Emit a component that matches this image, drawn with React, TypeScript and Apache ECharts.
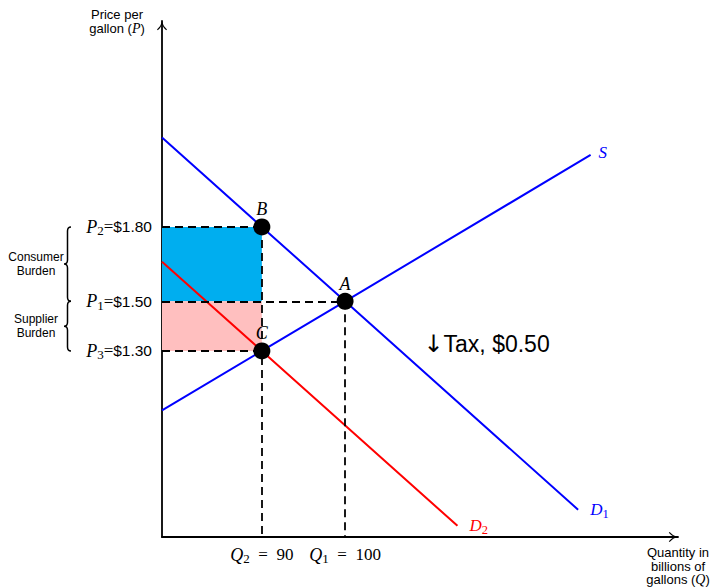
import { useEffect, useRef } from "react";
import * as echarts from "echarts";

// Equilibrium quantities, billions of gallons (Q2 after the tax, Q1 before)
const quantityLevels = [90, 100];
const quantitySubscripts = ["2", "1"];

// Price levels, $ per gallon (P3 sellers keep, P1 before tax, P2 buyers pay)
const priceLevels = [1.3, 1.5, 1.8];
const priceSubscripts = ["3", "1", "2"];

// Supply and demand curves as [quantity, price]
const supplyCurve = [
  [78, 1.06],
  [90, 1.3],
  [100, 1.5],
  [129.5, 2.09],
];
const demandBefore = [
  [78, 2.16],
  [90, 1.8],
  [100, 1.5],
  [128, 0.66],
];
const demandAfter = [
  [78, 1.66],
  [90, 1.3],
  [113.5, 0.595],
];

// Labelled equilibrium points
const pointNames = ["A", "B", "C"];
const pointValues = [
  [100, 1.5],
  [90, 1.8],
  [90, 1.3],
];

const taxAmount = 0.5;

// Tax incidence split: [lower price, upper price]
const burdenNames = ["Consumer\nBurden", "Supplier\nBurden"];
const burdenRanges = [
  [1.5, 1.8],
  [1.3, 1.5],
];
const burdenColors = ["#00AEEF", "#FFBFBF"];

const X_MIN = 78;
const X_MAX = 140;
const Y_MIN = 0.55;
const Y_MAX = 2.63;

const SERIF = "'Liberation Serif', 'DejaVu Serif', serif";
const SANS = "'Liberation Sans', 'DejaVu Sans', sans-serif";
const BLUE = "#0000FF";
const RED = "#FF0000";

const ARROW =
  "path://M5,0 Q6,4 10,7.6 L9.2,8.4 Q6.2,6 5,2.8 Q3.8,6 0.8,8.4 L0,7.6 Q4,4 5,0 Z";

const subRich = {
  p: { fontFamily: SERIF, fontStyle: "italic", fontSize: 18, color: "#000" },
  s: { fontFamily: SERIF, fontSize: 13, color: "#000", padding: [8, 0, 0, 0] },
  e: { fontFamily: SERIF, fontSize: 17, color: "#000" },
  v: { fontFamily: SANS, fontSize: 15.5, color: "#000" },
};

function findIndex(list: number[], v: number) {
  return list.findIndex((x) => Math.abs(x - v) < 1e-6);
}

function bracePath(xr: number, y1: number, y2: number) {
  const xm = xr - 3.5;
  const xc = xr - 7;
  const ym = (y1 + y2) / 2;
  const r = 4;
  return (
    `M${xr},${y1} Q${xm},${y1} ${xm},${y1 + r} L${xm},${ym - r} ` +
    `Q${xm},${ym} ${xc},${ym} Q${xm},${ym} ${xm},${ym + r} ` +
    `L${xm},${y2 - r} Q${xm},${y2} ${xr},${y2}`
  );
}

export default function App() {
  const ref = useRef<HTMLDivElement>(null);

  useEffect(() => {
    if (!ref.current) return;
    const chart = echarts.init(ref.current, null, { renderer: "svg" });

    const dashed = { color: "#000", width: 1.8, type: [8, 5] };
    const q2 = quantityLevels[0];
    const q1 = quantityLevels[1];
    const [p3, p1, p2] = priceLevels;

    const option: any = {
      animation: false,
      grid: { left: 162, right: 39, top: 21, bottom: 51 },
      xAxis: {
        type: "value",
        min: X_MIN,
        max: X_MAX,
        axisLine: {
          show: true,
          onZero: false,
          lineStyle: { color: "#000", width: 1.8 },
          symbol: ["none", ARROW],
          symbolSize: [10, 10],
          symbolOffset: [0, -5],
        },
        axisTick: { show: false },
        splitLine: { show: false },
        axisLabel: {
          customValues: quantityLevels,
          margin: 7,
          formatter: (v: number) => {
            const i = findIndex(quantityLevels, v);
            if (i < 0) return "";
            return `{p|Q}{s|${quantitySubscripts[i]}}{e|  =  ${quantityLevels[i]}}`;
          },
          rich: subRich,
        },
        name: "{a|Quantity in}\n{a|billions of}\n{a|gallons (}{i|Q}{a|)}",
        nameLocation: "end",
        nameGap: 0,
        nameTextStyle: {
          align: "center",
          verticalAlign: "top",
          padding: [9, 0, 0, 0],
          lineHeight: 13.5,
          rich: {
            a: { fontFamily: SANS, fontSize: 13, color: "#000", lineHeight: 13.5 },
            i: { fontFamily: SERIF, fontStyle: "italic", fontSize: 14, color: "#000", lineHeight: 13.5 },
          },
        },
      },
      yAxis: {
        type: "value",
        min: Y_MIN,
        max: Y_MAX,
        axisLine: {
          show: true,
          onZero: false,
          lineStyle: { color: "#000", width: 1.8 },
          symbol: ["none", ARROW],
          symbolSize: [10, 10],
          symbolOffset: [0, -5],
        },
        axisTick: { show: false },
        splitLine: { show: false },
        axisLabel: {
          customValues: priceLevels,
          margin: 10,
          formatter: (v: number) => {
            const i = findIndex(priceLevels, v);
            if (i < 0) return "";
            return `{p|P}{s|${priceSubscripts[i]}}{e|=}{v|$${priceLevels[i].toFixed(2)}}`;
          },
          rich: subRich,
        },
        name: "{a|Price per}\n{a|gallon (}{i|P}{a|)}",
        nameLocation: "end",
        nameGap: 0,
        nameTextStyle: {
          align: "center",
          verticalAlign: "middle",
          padding: [0, 90, 0, 0],
          lineHeight: 14,
          rich: {
            a: { fontFamily: SANS, fontSize: 13, color: "#000", lineHeight: 14 },
            i: { fontFamily: SERIF, fontStyle: "italic", fontSize: 14, color: "#000", lineHeight: 14 },
          },
        },
      },
      series: [
        {
          // burden rectangles and dashed guide lines
          type: "line",
          data: [],
          z: 1,
          silent: true,
          markArea: {
            silent: true,
            itemStyle: { borderWidth: 0 },
            data: burdenRanges.map((r, i) => [
              { coord: [X_MIN, r[0]], itemStyle: { color: burdenColors[i], opacity: 1 } },
              { coord: [q2, r[1]] },
            ]),
          },
          markLine: {
            silent: true,
            symbol: ["none", "none"],
            label: { show: false },
            lineStyle: dashed,
            data: [
              [{ coord: [X_MIN, p2] }, { coord: [q2, p2] }],
              [{ coord: [X_MIN, p1] }, { coord: [q1, p1] }],
              [{ coord: [X_MIN, p3] }, { coord: [q2, p3] }],
              [{ coord: [q2, p2] }, { coord: [q2, Y_MIN] }],
              [{ coord: [q1, p1] }, { coord: [q1, Y_MIN] }],
            ],
          },
        },
        {
          name: "S",
          type: "line",
          data: supplyCurve,
          z: 3,
          showSymbol: false,
          lineStyle: { color: BLUE, width: 2 },
          endLabel: {
            show: true,
            distance: 8,
            offset: [0, -2],
            formatter: "S",
            color: BLUE,
            fontFamily: SERIF,
            fontStyle: "italic",
            fontSize: 17,
          },
        },
        {
          name: "D1",
          type: "line",
          data: demandBefore,
          z: 3,
          showSymbol: false,
          lineStyle: { color: BLUE, width: 2 },
          endLabel: {
            show: true,
            distance: 12,
            formatter: "{d|D}{s|1}",
            rich: {
              d: { fontFamily: SERIF, fontStyle: "italic", fontSize: 17, color: BLUE },
              s: { fontFamily: SERIF, fontSize: 12.5, color: BLUE, padding: [8, 0, 0, 0] },
            },
          },
        },
        {
          name: "D2",
          type: "line",
          data: demandAfter,
          z: 3,
          showSymbol: false,
          lineStyle: { color: RED, width: 2 },
          endLabel: {
            show: true,
            distance: 12,
            formatter: "{d|D}{s|2}",
            rich: {
              d: { fontFamily: SERIF, fontStyle: "italic", fontSize: 17, color: RED },
              s: { fontFamily: SERIF, fontSize: 12.5, color: RED, padding: [8, 0, 0, 0] },
            },
          },
          markPoint: {
            silent: true,
            symbol: "circle",
            symbolSize: 0,
            data: [{ coord: [117, 1.33] }],
            label: {
              show: true,
              position: "inside",
              formatter: `{a|↓}{t|Tax, $${taxAmount.toFixed(2)}}`,
              rich: {
                a: { fontFamily: "'DejaVu Sans', sans-serif", fontSize: 24, color: "#000" },
                t: { fontFamily: SANS, fontSize: 23, color: "#000" },
              },
            },
          },
        },
        {
          name: "points",
          type: "scatter",
          z: 10,
          symbol: "circle",
          symbolSize: 17,
          itemStyle: { color: "#000", opacity: 1 },
          data: pointNames.map((n, i) => ({ name: n, value: pointValues[i] })),
          label: {
            show: true,
            position: "top",
            distance: 0,
            formatter: "{b}",
            fontFamily: SERIF,
            fontStyle: "italic",
            fontSize: 18,
            color: "#000",
          },
        },
        {
          name: "burden braces",
          type: "custom",
          clip: false,
          silent: true,
          z: 5,
          data: burdenRanges,
          renderItem: (params: any, api: any) => {
            const lo = api.value(0);
            const hi = api.value(1);
            const top = api.coord([X_MIN, hi]);
            const bot = api.coord([X_MIN, lo]);
            const xr = top[0] - 91;
            const ym = (top[1] + bot[1]) / 2;
            return {
              type: "group",
              children: [
                {
                  type: "path",
                  shape: { pathData: bracePath(xr, top[1], bot[1]) },
                  style: { stroke: "#000", fill: "none", lineWidth: 1.5 },
                },
                {
                  type: "text",
                  style: {
                    text: burdenNames[params.dataIndex],
                    x: xr - 35,
                    y: ym,
                    align: "center",
                    verticalAlign: "middle",
                    fontFamily: SANS,
                    fontSize: 12,
                    lineHeight: 14,
                    fill: "#000",
                  },
                },
              ],
            };
          },
        },
      ],
    };

    chart.setOption(option);
    return () => chart.dispose();
  }, []);

  return (
    <div
      ref={ref}
      style={{ position: "absolute", left: 0, top: 0, width: 717, height: 588 }}
    />
  );
}
